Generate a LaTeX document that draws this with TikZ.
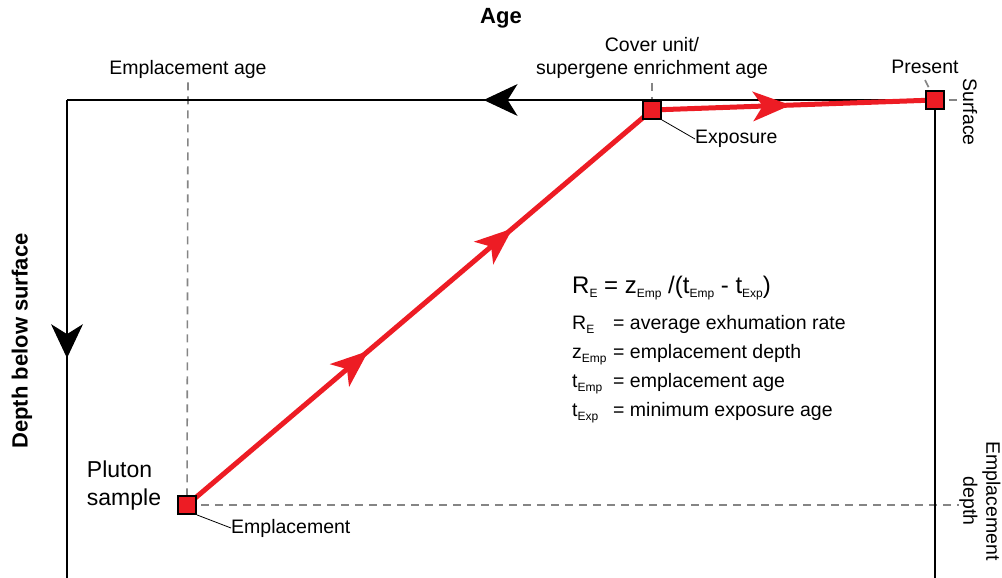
\documentclass[tikz,border=0pt]{standalone}
\usepackage{fontspec}
\setmainfont{Liberation Sans}
\usetikzlibrary{arrows.meta, decorations.markings}

\definecolor{trackred}{HTML}{ED1C24}
\definecolor{guidegray}{HTML}{858585}
\newcommand{\lowsub}[1]{\raisebox{-4pt}{\fontsize{12}{12}\selectfont #1}}

\tikzset{
  axisline/.style={line width=1.6pt, black},
  guide/.style={guidegray, line width=1.6pt, dash pattern=on 8pt off 6pt},
  track/.style={trackred, line width=5pt},
  stamp/.style={draw=black, fill=trackred, line width=1.8pt, minimum size=18pt, inner sep=0pt},
  leader/.style={line width=0.8pt},
  blacktip/.style={decorate, decoration={markings,
    mark=at position #1 with {\arrow{Stealth[length=34pt,width=32pt,inset=10pt,line width=0pt]}}}},
  redtip/.style={decorate, decoration={markings,
    mark=at position #1 with {\arrow{Stealth[length=38pt,width=30pt,inset=10pt,line width=0pt]}}}}
}

\begin{document}
\begin{tikzpicture}[x=1pt, y=-1pt, every node/.style={font=\fontsize{19.5}{23}\selectfont, inner sep=0pt}]
\useasboundingbox (0,0) rectangle (1002,578);

% Corners of the frame and the three dated points
\coordinate (corner) at (67,100);
\coordinate (botleft) at (67,578);
\coordinate (botright) at (935,578);
\coordinate (emp) at (187,505);
\coordinate (exp) at (652,110);
\coordinate (pres) at (935,100);

% Labels
\node[font=\fontsize{22}{26}\selectfont\bfseries] (agelab) at (501,18) {Age};
\node[font=\fontsize{22}{26}\selectfont\bfseries, rotate=90] (depthaxis) at (22,341) {Depth below surface};
\node (emplagelab) at (188,69) {Emplacement age};
\node[align=center] (covlab) at (652,58) {Cover unit/\\supergene enrichment age};
\node (preslab) at (925,67) {Present};
\node[rotate=-90] (surflab) at (970,112) {Surface};
\node[align=center, rotate=-90] (depthlab) at (980,501) {Emplacement\\depth};
\node[anchor=west] (explab) at (695,139) {Exposure};
\node[anchor=west] (emplab) at (231,528) {Emplacement};
\node[align=left, font=\fontsize{23}{28}\selectfont] (plutlab) at (124,486) {Pluton\\sample};

% Guides
\draw[guide] (emplagelab.south) ++(0,4) -- (emp);
\draw[guide] (covlab.south) ++(0,4) -- (exp |- corner);
\draw[guide] (preslab.south) ++(0,6) -- (pres);
\draw[guide] (pres) -- (pres -| surflab.south);
\draw[guide] (emp) -- (emp -| depthlab.south);

% Frame
\draw[axisline, postaction={blacktip=0.52}] (pres) -- (corner);
\draw[axisline, postaction={blacktip=0.54}] (corner) -- (botleft);
\draw[axisline] (pres) -- (botright);

% Exhumation path
\draw[track, postaction={redtip=0.39}, postaction={redtip=0.70}] (emp) -- (exp);
\draw[track, postaction={redtip=0.49}] (exp) -- (pres);

% Dated points
\node[stamp] (empbox) at (emp) {};
\node[stamp] (expbox) at (exp) {};
\node[stamp] (presbox) at (pres) {};
\draw[leader] (empbox.south east) -- (emplab.west);
\draw[leader] (expbox.south east) -- (explab.west);

% Rate equation
\node[anchor=base west, font=\fontsize{24}{28}\selectfont] (rate) at (572,293) {R\lowsub{E} = z\lowsub{Emp} /(t\lowsub{Emp} - t\lowsub{Exp})};
\node[anchor=base west] (sym1) at (572,329) {R\lowsub{E}};
\node[anchor=base west] (def1) at (613,329) {= average exhumation rate};
\node[anchor=base west] (sym2) at (572,358) {z\lowsub{Emp}};
\node[anchor=base west] (def2) at (613,358) {= emplacement depth};
\node[anchor=base west] (sym3) at (572,387) {t\lowsub{Emp}};
\node[anchor=base west] (def3) at (613,387) {= emplacement age};
\node[anchor=base west] (sym4) at (572,416) {t\lowsub{Exp}};
\node[anchor=base west] (def4) at (613,416) {= minimum exposure age};
\end{tikzpicture}
\end{document}
